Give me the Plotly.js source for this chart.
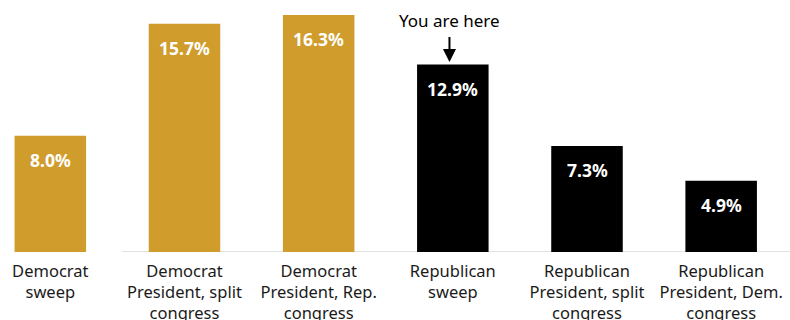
<!DOCTYPE html>
<html>
<head>
<meta charset="utf-8">
<script src="https://cdn.plot.ly/plotly-3.0.1.min.js"></script>
<style>html,body{margin:0;padding:0;background:#fff;}#chart{width:790px;height:320px;}</style>
</head>
<body>
<div id="chart"></div>
<script>
const categories = [
  "Democrat<br>sweep",
  "Democrat<br>President, split<br>congress",
  "Democrat<br>President, Rep.<br>congress",
  "Republican<br>sweep",
  "Republican<br>President, split<br>congress",
  "Republican<br>President, Dem.<br>congress"
];
const values = [8.0, 15.7, 16.3, 12.9, 7.3, 4.9];
const labels = ["8.0%", "15.7%", "16.3%", "12.9%", "7.3%", "4.9%"];
const barColors = ["#D09C2B", "#D09C2B", "#D09C2B", "#000000", "#000000", "#000000"];
const highlightIndex = 3;
const highlightText = "You are here";

const xs = categories.map((_, i) => i);

const trace = {
  type: "bar",
  x: xs,
  y: values,
  marker: { color: barColors, line: { width: 0 } },
  width: 0.533,
  hoverinfo: "none"
};

const annotations = values.map((v, i) => ({
  x: i, y: v, xref: "x", yref: "y",
  text: "<b>" + labels[i] + "</b>",
  showarrow: false,
  yanchor: "middle",
  yshift: -24,
  font: { family: "Noto Sans", size: 17.5, color: "#ffffff" }
}));

annotations.push({
  x: highlightIndex - 0.025, y: values[highlightIndex], xref: "x", yref: "y",
  text: "", showarrow: true, arrowhead: 2, arrowsize: 1.3, arrowwidth: 2,
  arrowcolor: "#000000", ax: 0, ay: -29, standoff: 2.5
});
annotations.push({
  x: highlightIndex - 0.025, y: values[highlightIndex], xref: "x", yref: "y",
  text: highlightText, showarrow: false, yanchor: "middle", yshift: 44,
  font: { family: "Noto Sans", size: 17, color: "#000000" }
});

const layout = {
  width: 790, height: 320,
  margin: { l: 0, r: 0, t: 0, b: 68, pad: 0 },
  paper_bgcolor: "#ffffff", plot_bgcolor: "#ffffff",
  showlegend: false,
  xaxis: {
    range: [-0.375, 5.513],
    tickmode: "array", tickvals: xs, ticktext: categories,
    showgrid: false, zeroline: false, showline: false, ticks: "",
    ticklabelstandoff: 7,
    tickfont: { family: "Noto Sans", size: 16.5, color: "#1a1a1a" },
    fixedrange: true
  },
  yaxis: {
    range: [0, 17.34],
    visible: false, showgrid: false, zeroline: false, fixedrange: true
  },
  shapes: [{
    type: "line", xref: "paper", yref: "y",
    x0: 122 / 790, x1: 1, y0: 0, y1: 0,
    line: { color: "#D9D9D9", width: 1.5 }, layer: "below"
  }],
  annotations: annotations
};

Plotly.newPlot("chart", [trace], layout, { staticPlot: true, displayModeBar: false });
</script>
</body>
</html>
